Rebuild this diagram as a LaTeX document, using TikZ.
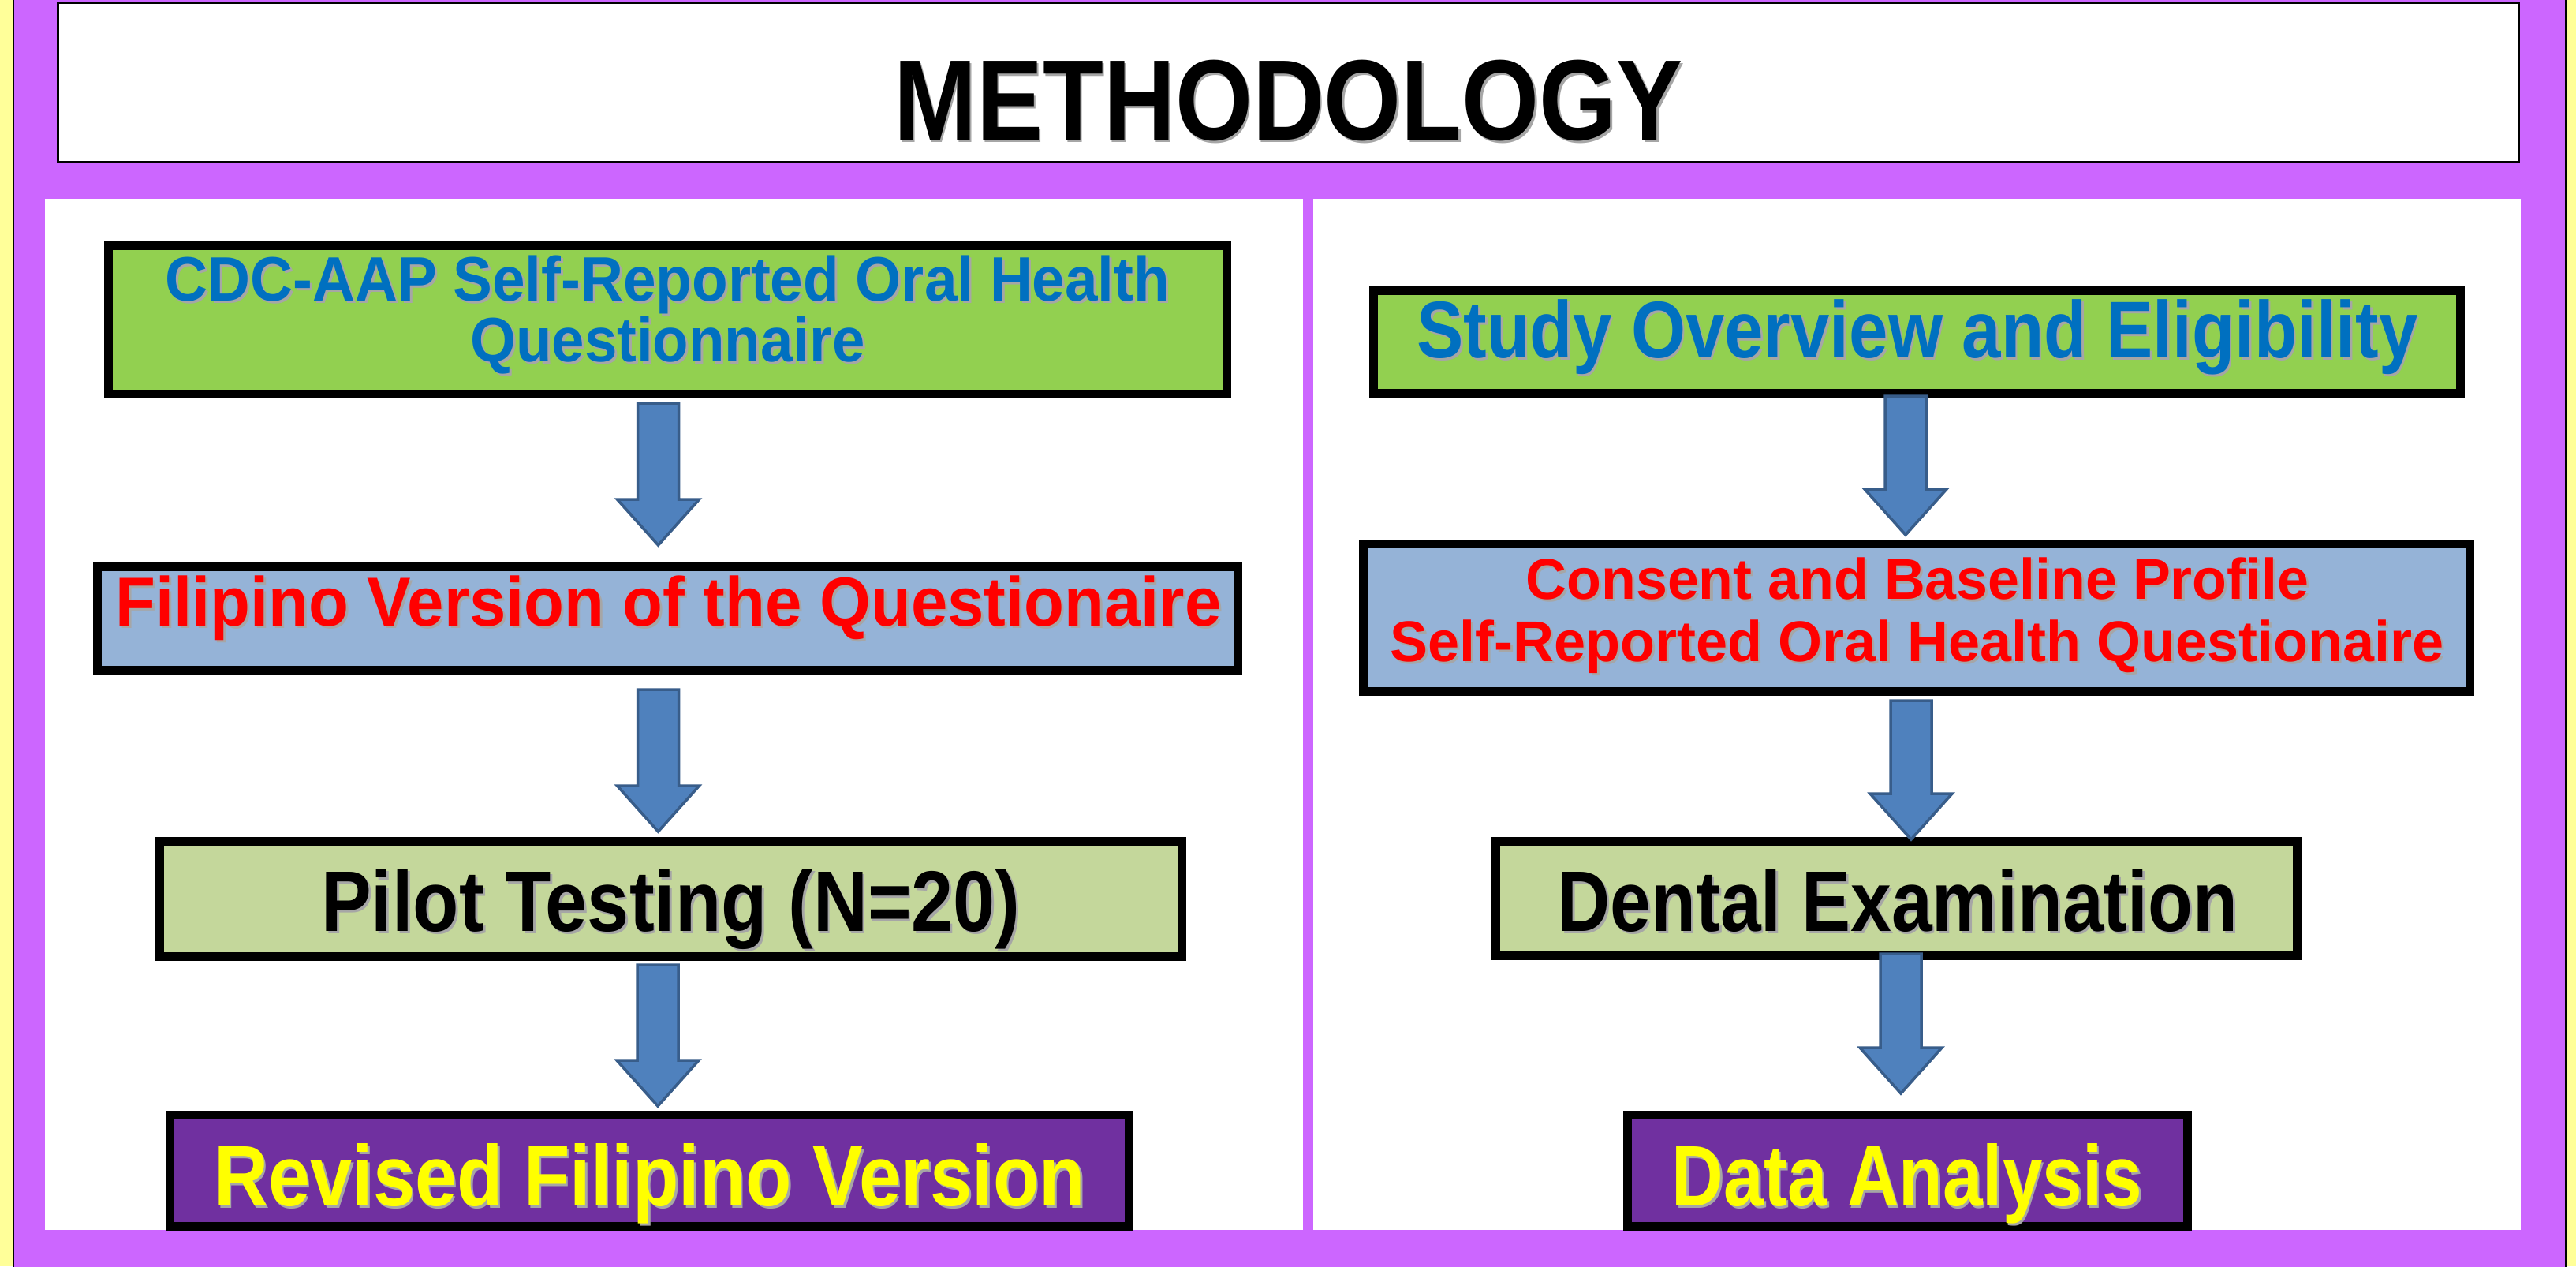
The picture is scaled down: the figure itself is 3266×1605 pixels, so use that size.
\documentclass[tikz,border=0pt]{standalone}
\usepackage{fontspec}
\setmainfont{Liberation Sans}
\usetikzlibrary{calc}
\definecolor{bgyellow}{HTML}{FFFF99}
\definecolor{bgpurple}{HTML}{CC66FF}
\definecolor{boxgreen}{HTML}{92D050}
\definecolor{boxblue}{HTML}{95B3D7}
\definecolor{boxolive}{HTML}{C4D79B}
\definecolor{boxpurple}{HTML}{7030A0}
\definecolor{txtblue}{HTML}{0070C0}
\definecolor{txtred}{HTML}{FF0000}
\definecolor{txtyellow}{HTML}{FFFF00}
\definecolor{arrfill}{HTML}{4F81BD}
\definecolor{arrline}{HTML}{385D8A}
\newcommand{\fitw}[2]{\resizebox{#1}{\height}{#2}}
\newcommand{\shd}[1]{\rlap{\kern0.9pt\raisebox{-0.9pt}{\textcolor{black!35}{#1}}}#1}
\newcommand{\barrow}[2]{%
  \filldraw[blockarrow] ($(#1)+(-26,0)$) -- ($(#1)+(26,0)$) -- ($(#2)+(26,-58)$) -- ($(#2)+(52,-58)$) -- (#2) -- ($(#2)+(-52,-58)$) -- ($(#2)+(-26,-58)$) -- cycle;}
\begin{document}
\begin{tikzpicture}[x=0.01cm,y=-0.01cm,
  stepbox/.style={draw=black, line width=3.1pt, inner sep=0pt, rectangle},
  lbl/.style={anchor=base, inner sep=0pt},
  blockarrow/.style={fill=arrfill, draw=arrline, line width=1pt, line join=miter}]
\useasboundingbox (0,0) rectangle (3266,1605);
\clip (0,0) rectangle (3266,1605);
% background
\fill[bgyellow] (0,0) rectangle (3266,1605);
\fill[bgpurple] (17,-5) rectangle (3253,1610);
\draw[black, line width=0.6pt] (17,-5) -- (17,1610);
\draw[black, line width=0.6pt] (3253,-5) -- (3253,1610);
% title
\node[draw=black, line width=0.85pt, fill=white, minimum width=31.18cm, minimum height=2.02cm, inner sep=0pt] (titlebox) at (1633.5,104.5) {};
\node[lbl, font=\bfseries\fontsize{41.3}{48}\selectfont] (title) at (1633.5,177) {\fitw{10cm}{\shd{METHODOLOGY}}};
% panels
\fill[white] (57,252) rectangle (1652,1559);
\fill[white] (1665,252) rectangle (3196,1559);
% left column boxes
\node[stepbox, fill=boxgreen, minimum width=14.18cm, minimum height=1.88cm] (cdc) at (846.5,405.5) {};
\node[stepbox, fill=boxblue, minimum width=14.46cm, minimum height=1.31cm] (fil) at (846.5,784) {};
\node[stepbox, fill=boxolive, minimum width=12.96cm, minimum height=1.46cm] (pilot) at (850.5,1139.5) {};
\node[stepbox, fill=boxpurple, minimum width=12.16cm, minimum height=1.41cm] (rev) at (823.5,1484) {};
% right column boxes
\node[stepbox, fill=boxgreen, minimum width=13.78cm, minimum height=1.30cm] (study) at (2430.5,433.5) {};
\node[stepbox, fill=boxblue, minimum width=14.03cm, minimum height=1.87cm] (consent) at (2430,783) {};
\node[stepbox, fill=boxolive, minimum width=10.16cm, minimum height=1.45cm] (dental) at (2404.5,1139) {};
\node[stepbox, fill=boxpurple, minimum width=7.10cm, minimum height=1.41cm] (data) at (2418.5,1484) {};
% labels
\begin{scope}[every node/.style={lbl}]
\node[text=txtblue, font=\bfseries\fontsize{22.6}{27}\selectfont] (cdcA) at (846.5,381) {\fitw{12.73cm}{\shd{CDC-AAP Self-Reported Oral Health}}};
\node[text=txtblue, font=\bfseries\fontsize{22.6}{27}\selectfont] (cdcB) at (846.5,458) {\fitw{5.0cm}{\shd{Questionnaire}}};
\node[text=txtred, font=\bfseries\fontsize{25}{30}\selectfont] (filA) at (847.5,793) {\fitw{14.01cm}{\shd{Filipino Version of the Questionaire}}};
\node[text=black, font=\bfseries\fontsize{31}{36}\selectfont] (pilotA) at (850.5,1180) {\fitw{8.86cm}{\shd{Pilot Testing (N=20)}}};
\node[text=txtyellow, font=\bfseries\fontsize{31}{36}\selectfont] (revA) at (823.5,1528) {\fitw{11.04cm}{\shd{Revised Filipino Version}}};
\node[text=txtblue, font=\bfseries\fontsize{29}{34}\selectfont] (studyA) at (2431,453) {\fitw{12.68cm}{\shd{Study Overview and Eligibility}}};
\node[text=txtred, font=\bfseries\fontsize{20.7}{25}\selectfont] (consA) at (2431,759) {\fitw{9.92cm}{\shd{Consent and Baseline Profile}}};
\node[text=txtred, font=\bfseries\fontsize{20.7}{25}\selectfont] (consB) at (2430.5,838) {\fitw{13.35cm}{\shd{Self-Reported Oral Health Questionaire}}};
\node[text=black, font=\bfseries\fontsize{31}{36}\selectfont] (dentalA) at (2406,1180) {\fitw{8.62cm}{\shd{Dental Examination}}};
\node[text=txtyellow, font=\bfseries\fontsize{31}{36}\selectfont] (dataA) at (2418,1528) {\fitw{5.96cm}{\shd{Data Analysis}}};
\end{scope}
% arrow end points
\coordinate (l1s) at (834.5,511); \coordinate (l1e) at (834.5,691);
\coordinate (l2s) at (834.5,874); \coordinate (l2e) at (834.5,1054);
\coordinate (l3s) at (834,1223); \coordinate (l3e) at (834,1402);
\coordinate (r1s) at (2416,502); \coordinate (r1e) at (2416,678);
\coordinate (r2s) at (2423,888); \coordinate (r2e) at (2423,1064);
\coordinate (r3s) at (2410,1209); \coordinate (r3e) at (2410,1386);
\barrow{l1s}{l1e}
\barrow{l2s}{l2e}
\barrow{l3s}{l3e}
\barrow{r1s}{r1e}
\barrow{r2s}{r2e}
\barrow{r3s}{r3e}
\end{tikzpicture}
\end{document}
